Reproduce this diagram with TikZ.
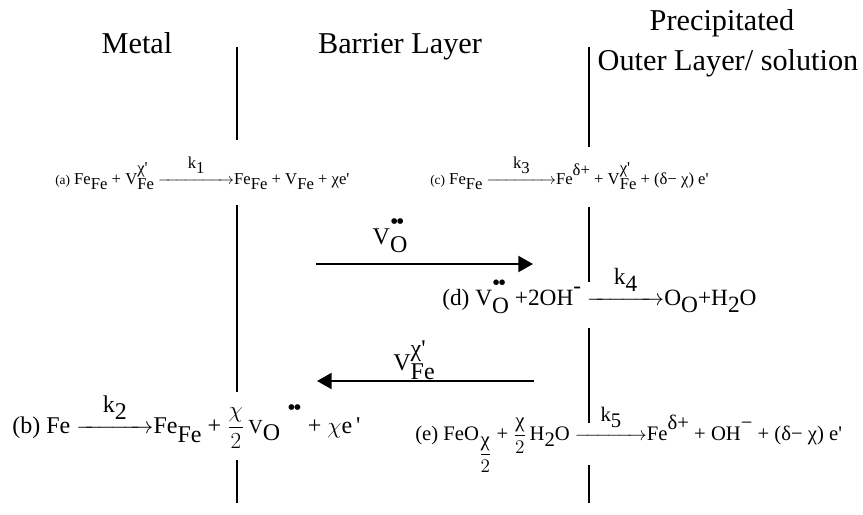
\documentclass[tikz,border=0pt]{standalone}
\usepackage{fontspec}
\usepackage{amsmath}
\usepackage{graphicx}
\setmainfont{Liberation Serif}
\usetikzlibrary{arrows.meta}

% lowered / raised indices at full size
\newcommand{\dn}[1]{\raisebox{-0.3em}{#1}}
\newcommand{\up}[1]{\raisebox{0.5em}{#1}}
\newcommand{\ud}[2]{\rlap{\raisebox{0.62em}{#1}}\raisebox{-0.35em}{#2}}
\newcommand{\pr}{\textquotesingle}
\newcommand{\bb}{\textbullet\kern-0.1em\textbullet}
\newcommand{\rarr}[2]{\shortstack{#2\\[0.1ex]\makebox[#1]{\rightarrowfill}}}

\begin{document}
\begin{tikzpicture}[x=0.75pt, y=-0.75pt,
  oxtitle/.style = {anchor=base, font=\fontsize{22.7}{26}\selectfont},
  oxwall/.style = {line width=1.4pt},
  oxflux/.style = {-{Triangle[length=11pt,width=12pt]}, line width=1.6pt},
  oxeqs/.style = {anchor=base west, inner sep=0pt, font=\fontsize{12.5}{15}\selectfont},
  oxeqm/.style = {anchor=base west, inner sep=0pt, font=\fontsize{15.5}{18}\selectfont},
  oxeql/.style = {anchor=base west, inner sep=0pt, font=\fontsize{18}{22}\selectfont},
  oxlbl/.style = {inner sep=0pt, font=\fontsize{18}{22}\selectfont}
]
  \useasboundingbox (0,0) rectangle (863,514);
  % region titles
  \node[oxtitle] (metal) at (137,53) {Metal};
  \node[oxtitle] (barrier) at (400,53) {Barrier Layer};
  \node[oxtitle] (precip) at (722,30) {Precipitated};
  \node[oxtitle] (outer) at (728,70) {Outer Layer/ solution};
  % interfaces
  \foreach \x/\ya/\yb in {237/47/140, 237/205/392, 237/460/503,
                          589/47/147, 589/207/282, 589/328/423, 589/465/503}
    \draw[oxwall] (\x,\ya) -- (\x,\yb);
  % reactions at the interfaces
  \node[oxeqs] (rxa) at (55,184)
    {{\fontsize{10}{12}\selectfont(a)} Fe\dn{Fe} + V\ud{χ\pr}{Fe} \rarr{57pt}{k\dn{1}}Fe\dn{Fe} + V\dn{Fe} + χe\pr};
  \node[oxeqs] (rxc) at (430,184)
    {{\fontsize{10}{12}\selectfont(c)} Fe\dn{Fe} \rarr{52pt}{k\dn{3}}Fe\up{δ+} + V\ud{χ\pr}{Fe} + (δ− χ) e\pr};
  \node[oxeqm, font=\fontsize{17.5}{20}\selectfont] (rxd) at (442,305)
    {(d) V\ud{\bb}{O} +2OH\up{-} \rarr{58pt}{k\dn{4}}O\dn{O}+H\dn{2}O};
  \node[oxeql] (rxb) at (12,433)
    {(b) Fe \rarr{58pt}{k\dn{2}}Fe\raisebox{-0.4em}{Fe} + $\dfrac{\chi}{2}$\,{\fontsize{15}{18}\selectfont V}\dn{O}\hspace{0.3em}\raisebox{0.75em}{\bb} + $\chi$e\,\pr};
  \node[oxeqm] (rxe) at (415,440)
    {(e) FeO\raisebox{-0.95em}{$\dfrac{\text{χ}}{2}$} + $\dfrac{\text{χ}}{2}$\,H\dn{2}O \rarr{54pt}{k\dn{5}}Fe\up{δ+} + OH\up{−} + (δ− χ) e\pr};
  % defect fluxes across the barrier layer
  \coordinate (vo0) at (316,264);
  \coordinate (vo1) at (533,264);
  \coordinate (vf0) at (534,381);
  \coordinate (vf1) at (317,381);
  \draw[oxflux] (vo0) -- (vo1);
  \draw[oxflux] (vf0) -- (vf1);
  \node[oxlbl] (lvo) at (390,236) {V\ud{\bb}{O}};
  \node[oxlbl] (lvf) at (414,360) {V\ud{χ\pr}{Fe}};
\end{tikzpicture}
\end{document}
